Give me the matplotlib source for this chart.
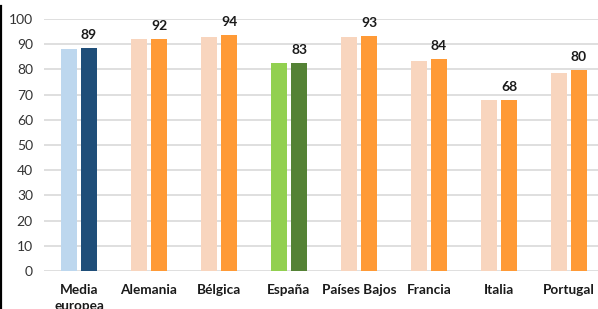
import matplotlib
matplotlib.use("Agg")
import matplotlib.pyplot as plt
from matplotlib.lines import Line2D
import numpy as np

plt.rcParams['font.family'] = ['Lato', 'DejaVu Sans']

categories = ["Media\neuropea", "Alemania", "Bélgica", "España", "Países Bajos", "Francia", "Italia", "Portugal"]
series_prev = [88.0, 92.0, 93.0, 82.6, 92.8, 83.5, 67.7, 78.5]
series_curr = [88.6, 92.2, 93.8, 82.7, 93.3, 84.0, 68.0, 79.8]
labels = ["89", "92", "94", "83", "93", "84", "68", "80"]
yticks = [0, 10, 20, 30, 40, 50, 60, 70, 80, 90, 100]

prev_colors = ["#BDD7EE", "#F8D5BE", "#F8D5BE", "#92D050", "#F8D5BE", "#F8D5BE", "#F8D5BE", "#F8D5BE"]
curr_colors = ["#1F4E79", "#FF9A36", "#FF9A36", "#548235", "#FF9A36", "#FF9A36", "#FF9A36", "#FF9A36"]

W, H = 598, 309
fig = plt.figure(figsize=(W / 100, H / 100), dpi=100)
ax = fig.add_axes([44 / W, (H - 271) / H, (W - 44) / W, (271 - 19) / H])

x = np.arange(len(categories))
bw = 16 / 70
off = 10 / 70
ax.bar(x - off, series_prev, width=bw, color=prev_colors, zorder=3)
ax.bar(x + off, series_curr, width=bw, color=curr_colors, zorder=3)

for xi, v, lab in zip(x, series_curr, labels):
    ax.annotate(lab, (xi + off, v), xytext=(0, 5), textcoords="offset points",
                ha="center", va="bottom", fontsize=10, fontweight="bold",
                color="#1a1a1a", clip_on=False)

ax.set_xlim(-0.5, -0.5 + (W - 44) / 70)
ax.set_ylim(0, 100)
ax.set_yticks(yticks)
ax.set_yticklabels([str(t) for t in yticks], fontsize=10, color="#333333")
ax.set_xticks(x)
ax.set_xticklabels(categories, fontsize=9.8, fontweight="bold", color="#1a1a1a",
                   linespacing=1.45, va="top")
ax.tick_params(axis="both", length=0)
ax.tick_params(axis="x", pad=9)
ax.tick_params(axis="y", pad=8)
ax.grid(axis="y", color="#D9D9D9", linewidth=1.2, zorder=0)
for s in ax.spines.values():
    s.set_visible(False)

fig.add_artist(Line2D([1 / W, 1 / W], [0, (H - 6) / H], color="black", linewidth=1.6,
                      transform=fig.transFigure))

fig.savefig("out.png", dpi=100)
